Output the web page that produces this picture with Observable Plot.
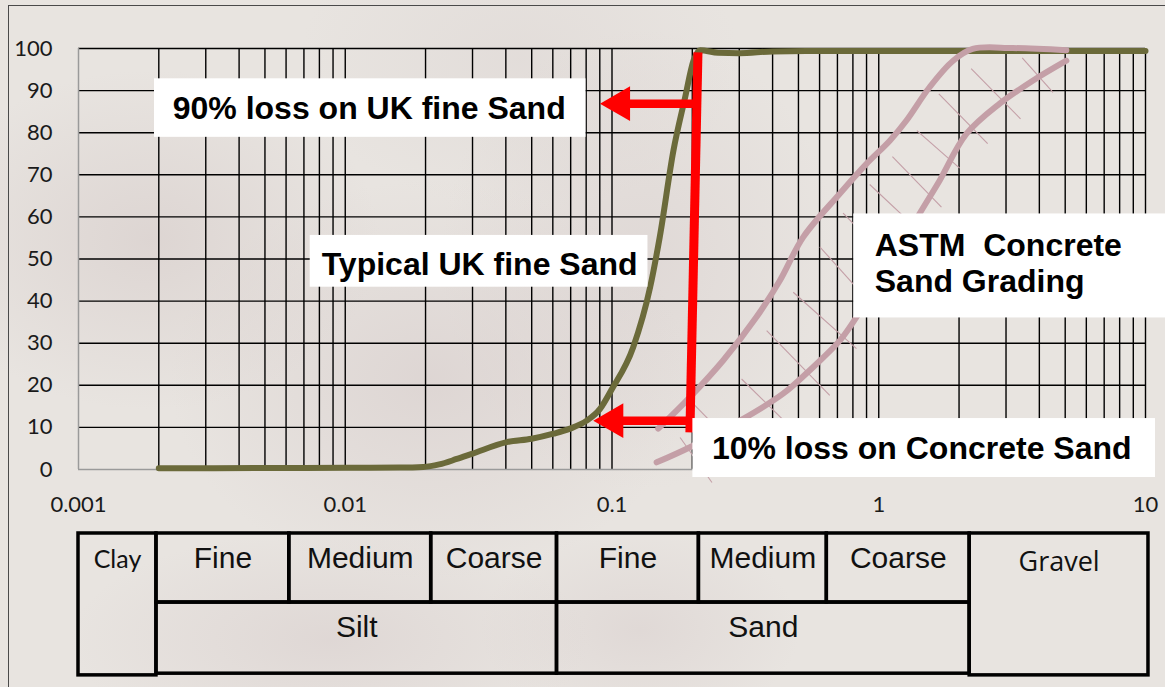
<!DOCTYPE html>
<html><head><meta charset="utf-8">
<script src="https://cdn.jsdelivr.net/npm/d3@7"></script>
<script src="https://cdn.jsdelivr.net/npm/@observablehq/plot@0.6"></script>
<style>
html,body{margin:0;padding:0;}
body{width:1165px;height:687px;overflow:hidden;position:relative;
background:
 radial-gradient(ellipse 230px 170px at 150px 240px, rgba(212,201,199,0.55), rgba(212,201,199,0)),
 radial-gradient(ellipse 260px 200px at 430px 380px, rgba(213,202,201,0.55), rgba(213,202,201,0)),
 radial-gradient(ellipse 200px 230px at 640px 260px, rgba(215,205,204,0.5), rgba(215,205,204,0)),
 radial-gradient(ellipse 260px 110px at 330px 640px, rgba(214,203,202,0.5), rgba(214,203,202,0)),
 radial-gradient(ellipse 160px 100px at 640px 630px, rgba(214,203,202,0.45), rgba(214,203,202,0)),
 radial-gradient(ellipse 220px 150px at 520px 60px, rgba(218,210,208,0.4), rgba(218,210,208,0)),
 #e8e4e0;}
#frame{position:absolute;left:8px;top:5px;width:1200px;height:700px;border-left:1.5px solid #4a4a4a;border-top:1.5px solid #4a4a4a;}
#chart{position:absolute;left:0;top:0;}
</style></head><body><div id="frame"></div><div id="chart"></div>
<script>
// ---- data (particle size in mm, % passing) ----
const ukSandSize    = [0.002, 0.005, 0.01, 0.016, 0.0196, 0.0225, 0.0262, 0.0298, 0.0403, 0.05, 0.0603, 0.0696, 0.0804, 0.0902, 0.0997, 0.120, 0.139, 0.151, 0.170, 0.188, 0.202, 0.214, 0.25, 0.30, 0.40, 0.60, 1, 10];
const ukSandPassing = [0.3,   0.35,  0.4,  0.45,  0.6,    1.2,    2.5,    3.7,    6.5,    7.3,  8.5,    9.7,    11.6,   14.4,   19.0,   29,    43.3,  55.2,  75.8,  88.4,  97.1,  99.6,  99.0, 98.9, 99.3, 99.4, 99.4, 99.4];

const astmUpperSize    = [0.149, 0.196, 0.261, 0.348, 0.426, 0.521, 0.714, 0.899, 1.10, 1.27, 1.55, 1.90, 2.25, 3.18, 5.05];
const astmUpperPassing = [9.7,   17.2,  25.9,  36.2,  44.9,  55.2,  65.5,  72.6,  78.1, 82.9, 90.8, 97.1, 99.9, 100.1, 99.6];

const astmLowerSize    = [0.147, 0.196, 0.302, 0.438, 0.567, 0.714, 0.825, 1.11, 1.42, 1.69, 2.13, 2.84, 3.79, 5.05];
const astmLowerPassing = [1.7,   5.3,   11.6,  18.0,  24.3,  30.6,  36.2,  49.0, 60.7, 68.6, 79.7, 86.9, 92.4, 97.1];

// hatching between the ASTM limits
const hatchX1 = [0.180, 0.196, 0.306, 0.380, 0.478, 0.601, 0.735, 0.925, 1.125, 1.39, 1.68, 2.22, 3.45];
const hatchY1 = [7.6,   16.4,  21.5,  33.0,  42.1,  52.9,  60.9,  67.7,  74.3,  80.5, 89.2, 95.2, 97.8];
const hatchX2 = [0.237, 0.289, 0.46,  0.655, 0.825, 0.925, 1.009, 1.31,  1.718, 2.01, 2.56, 3.40, 4.50];
const hatchY2 = [-3.1,  5.5,   10.5,  17.6,  28.7,  39.7,  52.0,  58.7,  62.3,  71.6, 77.4, 83.3, 89.6];

const xTicks = [0.001, 0.01, 0.1, 1, 10];
const xTickLabels = ["0.001", "0.01", "0.1", "1", "10"];
const yTicks = [0, 10, 20, 30, 40, 50, 60, 70, 80, 90, 100];

// soil classification table (size limits in mm)
const classNames = ["Clay", "Fine", "Medium", "Coarse", "Silt", "Fine", "Medium", "Coarse", "Sand", "Gravel"];
const classFrom  = [0.001, 0.00196, 0.00617, 0.0210, 0.00196, 0.0622, 0.2117, 0.6387, 0.0622, 2.192];
const classTo    = [0.00196, 0.00617, 0.0210, 0.0622, 0.0622, 0.2117, 0.6387, 2.192, 2.192, 10.26];
const classRow   = ["both", "top", "top", "top", "bottom", "top", "top", "top", "bottom", "both"];

// ---- build ----
const red = "#ff0000", olive = "#6b6a3a", pink = "#c49fa7";
const xs = d3.scaleLog([0.001, 10], [78, 1145]);
const shift = (v, px) => xs.invert(xs(v) + px);

const green = ukSandSize.map((x, i) => ({x, y: ukSandPassing[i]}));
const upper = astmUpperSize.map((x, i) => ({x, y: astmUpperPassing[i]}));
const lower = astmLowerSize.map((x, i) => ({x, y: astmLowerPassing[i]}));
const hatches = hatchX1.map((x1, i) => ({x1, y1: hatchY1[i], x2: hatchX2[i], y2: hatchY2[i]}));
const gridX = d3.scaleLog().domain([0.001, 10]).ticks().filter(d => d > 0.001);

const rowY = {both: [-15.2, -48.9], top: [-15.2, -31.6], bottom: [-31.6, -48.5]};
const cells = classNames.map((name, i) => ({
  name, x1: classFrom[i], x2: classTo[i], y1: rowY[classRow[i]][0], y2: rowY[classRow[i]][1], row: classRow[i]
}));
const cellLabels = cells.map(c => ({
  name: c.name,
  x: Math.sqrt(c.x1 * c.x2),
  y: c.row === "bottom" ? -39.9 : (c.name === "Gravel" ? -24.0 : -23.5),
  font: c.name === "Clay" ? "Lato, sans-serif" : c.name === "Gravel" ? "'Open Sans', sans-serif" : "'Liberation Sans', Arial, sans-serif",
  size: c.name === "Clay" ? 25 : c.name === "Gravel" ? 27 : 30
}));

const boxes = [
  {x1: 0.001927, x2: 0.0799, y1: 92.8, y2: 78.9},
  {x1: 0.00739, x2: 0.1364, y1: 55.6, y2: 43.3},
  {x1: 0.806, x2: 12.5, y1: 60.7, y2: 36.0},
  {x1: 0.201, x2: 10.9, y1: 12.1, y2: -1.9}
];
const notes = [
  {text: "90% loss on UK fine Sand", x: 0.0123, y: 83.2},
  {text: "Typical UK fine Sand", x: 0.0319, y: 46.1},
  {text: "10% loss on Concrete Sand", x: 1.449, y: 2.6}
];
const astmNote = [{text: "ASTM  Concrete\nSand Grading", x: 0.966, y: 42.1}];

const arrows = [
  {tip: 0.0902, y: 86.9, x2: 0.2095},
  {tip: 0.0851, y: 11.6, x2: 0.1962}
];
const shafts = arrows.map(a => ({x1: shift(a.tip, 22), x2: a.x2, y: a.y}));
const boldFont = {fontSize: 32, fontWeight: "bold", fontFamily: "'Liberation Sans', Arial, sans-serif", fill: "#000"};

const chart = Plot.plot({
  width: 1165, height: 687,
  marginLeft: 78, marginRight: 20, marginTop: 48, marginBottom: 218,
  style: {background: "transparent", overflow: "visible", color: "#1a1a1a"},
  x: {type: "log", domain: [0.001, 10]},
  y: {domain: [0, 100]},
  marks: [
    // grid
    Plot.ruleX(gridX, {y1: 0, y2: 100, stroke: "#000", strokeWidth: 1.4}),
    Plot.ruleY(yTicks.filter(d => d > 0), {x1: 0.001, x2: 10, stroke: "#000", strokeWidth: 1.4}),
    Plot.ruleY([0], {x1: 0.001, x2: 10, stroke: "#9a9a9a", strokeWidth: 1.5}),
    Plot.ruleX([0.001], {y1: 0, y2: 100, stroke: "#9a9a9a", strokeWidth: 1.5}),
    // axes
    Plot.axisY(yTicks, {tickSize: 0, tickPadding: 26, fontSize: 22, fontFamily: "Lato, sans-serif"}),
    Plot.axisX(xTicks, {tickSize: 0, tickPadding: 27, fontSize: 22, fontFamily: "Lato, sans-serif",
      tickFormat: d => xTickLabels[xTicks.indexOf(d)]}),
    // hatching & curves
    Plot.link(hatches, {x1: "x1", y1: "y1", x2: "x2", y2: "y2", stroke: pink, strokeWidth: 1.1}),
    Plot.line(green, {x: "x", y: "y", stroke: olive, strokeWidth: 6, curve: "monotone-x", strokeLinecap: "round"}),
    Plot.line(upper, {x: "x", y: "y", stroke: pink, strokeWidth: 6, curve: "catmull-rom", strokeLinecap: "round"}),
    Plot.line(lower, {x: "x", y: "y", stroke: pink, strokeWidth: 6, curve: "catmull-rom", strokeLinecap: "round"}),
    // red markers
    Plot.link([{x1: 0.2100, y1: 99.1, x2: 0.1959, y2: 8.8}], {x1: "x1", y1: "y1", x2: "x2", y2: "y2", stroke: red, strokeWidth: 9}),
    Plot.ruleY(shafts, {y: "y", x1: "x1", x2: "x2", stroke: red, strokeWidth: 8.5}),
    Plot.dot(arrows, {x: "tip", y: "y", symbol: "triangle", r: 12.9, rotate: -90, fill: red, stroke: "none", dx: 20}),
    // annotation boxes
    Plot.rect(boxes, {x1: "x1", x2: "x2", y1: "y1", y2: "y2", fill: "white"}),
    Plot.text(notes, {x: "x", y: "y", text: "text", textAnchor: "middle", lineAnchor: "bottom", ...boldFont}),
    Plot.text(astmNote, {x: "x", y: "y", text: "text", textAnchor: "start", lineAnchor: "bottom", lineHeight: 1.147, ...boldFont}),
    // classification table
    Plot.rect(cells, {x1: "x1", x2: "x2", y1: "y1", y2: "y2", fill: "none", stroke: "#000", strokeWidth: 3.5}),
    ...cellLabels.map(c => Plot.text([c], {x: "x", y: "y", text: "name", lineAnchor: "bottom",
      fontSize: c.size, fontFamily: c.font, fill: "#111"}))
  ]
});
document.getElementById("chart").appendChild(chart);
</script>
</body></html>
